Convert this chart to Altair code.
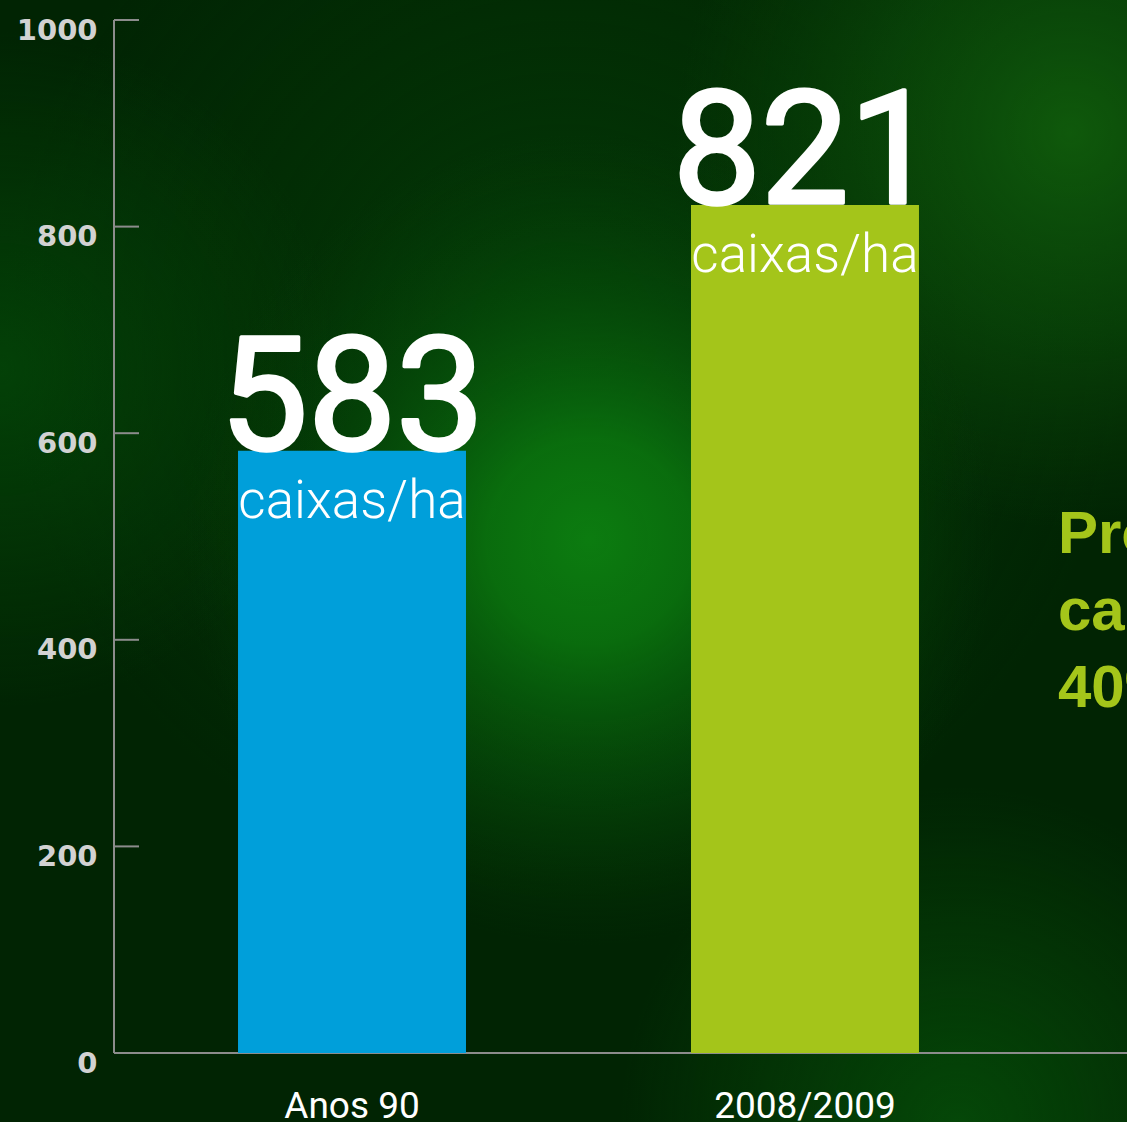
import altair as alt
import pandas as pd

# ---- data ----
categories = ["Anos 90", "2008/2009"]
values = [583, 821]
bar_colors = ["#009fda", "#a4c51a"]
unit_label = "caixas/ha"
y_ticks = [0, 200, 400, 600, 800, 1000]
side_lines = ["Produtividade", "caixas/ha", "40% maior"]

W, H = 1013, 1033
PAD_L, PAD_T, PAD_B = 114, 20, 69

df = pd.DataFrame({"cat": categories, "val": values, "unit": [unit_label] * len(values)})
ticks_df = pd.DataFrame({"v": y_ticks})
one = pd.DataFrame({"k": [0]})


def glow(cx, cy, r, stops):
    return {
        "gradient": "radial",
        "x1": cx, "y1": cy, "r1": 0,
        "x2": cx, "y2": cy, "r2": r,
        "stops": [{"offset": o, "color": c} for o, c in stops],
    }


def bg_rect(fill):
    return alt.Chart(one).mark_rect(fill=fill).encode(
        x=alt.value(-PAD_L), x2=alt.value(W),
        y=alt.value(-PAD_T), y2=alt.value(H + PAD_B),
    )


bg_layers = [
    bg_rect("#012403"),
    bg_rect(glow(0.5, 0.3, 0.5, [(0, "rgba(4,70,8,0.6)"), (1, "rgba(4,70,8,0)")])),
    bg_rect(glow(0.0, 0.33, 0.3, [(0, "rgba(4,72,8,0.8)"), (1, "rgba(4,72,8,0)")])),
    bg_rect(glow(0.95, 0.12, 0.35, [(0, "rgba(16,92,12,0.95)"), (0.5, "rgba(12,80,10,0.6)"), (1, "rgba(10,70,8,0)")])),
    bg_rect(glow(0.85, 1.0, 0.3, [(0, "rgba(6,80,9,0.8)"), (1, "rgba(6,80,9,0)")])),
    bg_rect(glow(0.523, 0.481, 0.36, [(0, "rgba(12,124,16,1)"), (0.25, "rgba(10,112,14,0.95)"),
                                       (0.6, "rgba(6,82,10,0.6)"), (1, "rgba(4,60,6,0)")])),
]

axis_color = "#8c8c8c"

y_rule = alt.Chart(one).mark_rule(color=axis_color, strokeWidth=2).encode(
    x=alt.value(0), y=alt.datum(0), y2=alt.datum(1000)
)
x_rule = alt.Chart(one).mark_rule(color=axis_color, strokeWidth=2).encode(
    x=alt.value(0), x2=alt.value(W), y=alt.datum(0)
)
tick_rules = alt.Chart(ticks_df).mark_rule(color=axis_color, strokeWidth=2).encode(
    y=alt.Y("v:Q"), x=alt.value(0), x2=alt.value(25)
)

x_enc = alt.X(
    "cat:N", sort=categories,
    scale=alt.Scale(paddingInner=0.4967, paddingOuter=0.3665, align=0.3735),
    axis=alt.Axis(title=None, domain=False, ticks=False, tickSize=0, labelAngle=0,
                  labelFont="Roboto", labelFontSize=37, labelColor="#ffffff", labelLimit=0,
                  labelPadding=64, labelBaseline="alphabetic", zindex=1, grid=False),
)
y_enc = alt.Y(
    "val:Q",
    scale=alt.Scale(domain=[0, 1000], nice=False),
    axis=alt.Axis(title=None, values=y_ticks, format="d", domain=False, ticks=False, tickSize=0,
                  grid=False, labelFont="DejaVu Sans", labelFontWeight="bold", labelFontSize=29,
                  labelColor="#d2d2d2", labelPadding=17, labelBaseline="alphabetic",
                  labelOffset=19, labelFlush=False, labelOverlap=False, zindex=1),
)

bars = alt.Chart(df).mark_bar().encode(
    x=x_enc, y=y_enc,
    color=alt.Color("cat:N", scale=alt.Scale(domain=categories, range=bar_colors), legend=None),
)

big = alt.Chart(df).mark_text(
    font="Roboto", fontSize=157, fontWeight="normal", color="#ffffff",
    stroke="#ffffff", strokeWidth=3.5, strokeJoin="round",
    baseline="alphabetic", align="center", dy=-2,
).encode(x=alt.X("cat:N", sort=categories), y="val:Q", text="val:Q")

unit = alt.Chart(df).mark_text(
    font="Roboto", fontSize=53, fontWeight=300, color="#ffffff",
    baseline="alphabetic", align="center", dy=67,
).encode(x=alt.X("cat:N", sort=categories), y="val:Q", text="unit:N")

side = [
    alt.Chart(one).mark_text(
        font="Liberation Sans", fontSize=60, fontWeight="bold", color="#a4c51a",
        align="left", baseline="alphabetic",
    ).encode(x=alt.value(944), y=alt.value(533 + 77 * i), text=alt.value(t))
    for i, t in enumerate(side_lines)
]

chart = alt.layer(*bg_layers, y_rule, x_rule, tick_rules, bars, big, unit, *side).properties(
    width=W, height=H,
    autosize=alt.AutoSizeParams(type="none"),
    padding={"left": PAD_L, "top": PAD_T, "right": 0, "bottom": PAD_B},
    background="#012403",
).configure_view(strokeWidth=0)

chart.save("out.html", embed_options={"renderer": "svg", "actions": False})
